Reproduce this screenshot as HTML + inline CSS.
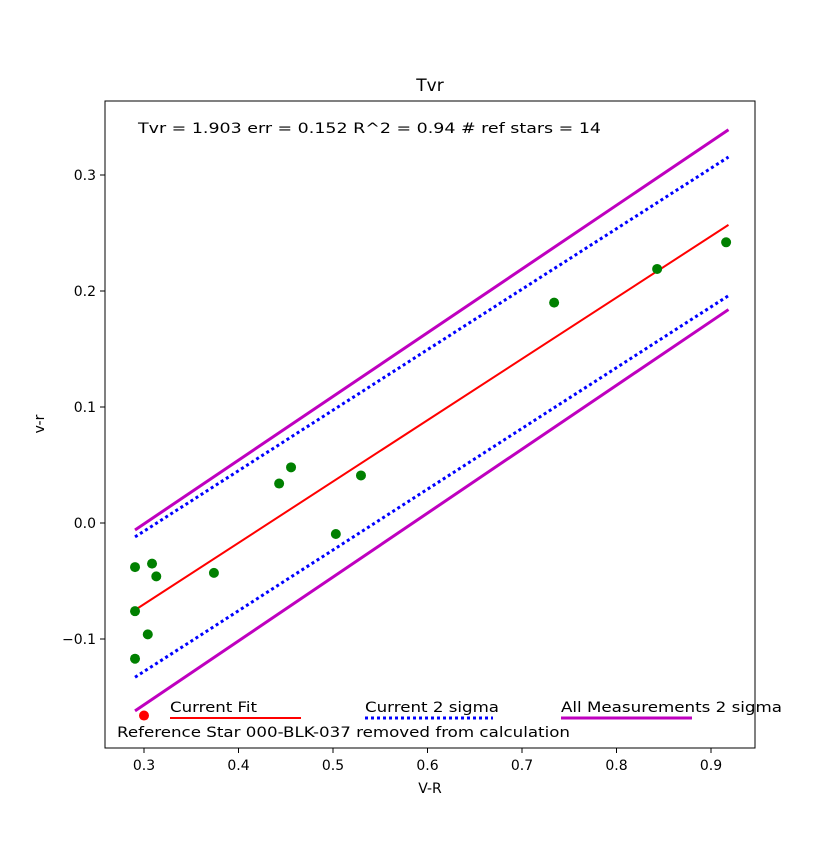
<!DOCTYPE html>
<html><head><meta charset="utf-8"><style>
body{margin:0;background:#fff}
text{font-family:"DejaVu Sans","Liberation Sans",sans-serif;fill:#000}
</style></head><body>
<svg id="chart" width="840" height="840" xmlns="http://www.w3.org/2000/svg" xml:space="preserve">
<rect width="840" height="840" fill="#fff"/>
<text x="430" y="91" font-size="17" text-anchor="middle">Tvr</text>
<g id="plot"></g>
<rect x="105" y="101" width="650" height="647" fill="none" stroke="#000" stroke-width="1"/>
<text x="138" y="133" font-size="14" textLength="463" lengthAdjust="spacingAndGlyphs">Tvr =  1.903 err = 0.152  R^2 = 0.94  # ref stars =  14</text>
<text x="430" y="793" font-size="14" text-anchor="middle">V-R</text>
<text x="44" y="424" font-size="14" text-anchor="middle" transform="rotate(-90 44 424)">v-r</text>
<g>
<text x="170" y="712" font-size="14" textLength="87" lengthAdjust="spacingAndGlyphs">Current Fit</text>
<line x1="170" y1="718" x2="301" y2="718" stroke="#ff0000" stroke-width="2"/>
<text x="365" y="712" font-size="14" textLength="134" lengthAdjust="spacingAndGlyphs">Current 2 sigma</text>
<line x1="365" y1="718" x2="493" y2="718" stroke="#0000ff" stroke-width="3" stroke-dasharray="3,3"/>
<text x="561" y="712" font-size="14" textLength="221" lengthAdjust="spacingAndGlyphs">All Measurements 2 sigma</text>
<line x1="561" y1="718" x2="692" y2="718" stroke="#bf00bf" stroke-width="3"/>
<text x="117" y="737" font-size="14" textLength="453" lengthAdjust="spacingAndGlyphs">Reference Star 000-BLK-037 removed from calculation</text>
</g>
</svg>
<script>
const xTicks=[0.3,0.4,0.5,0.6,0.7,0.8,0.9];
const yTicks=[-0.1,0.0,0.1,0.2,0.3];
const yTickLabels=["\u22120.1","0.0","0.1","0.2","0.3"];
const starX=[0.2905,0.2905,0.2905,0.304,0.3085,0.313,0.374,0.443,0.4556,0.503,0.5296,0.734,0.843,0.916];
const starY=[-0.038,-0.076,-0.117,-0.096,-0.035,-0.046,-0.043,0.034,0.048,-0.0095,0.041,0.190,0.219,0.242];
const removedX=[0.3];
const removedY=[-0.166];
const lineX=[0.2905,0.9185];
const fitY=[-0.075,0.257];
const sigUpY=[-0.012,0.3155];
const sigLoY=[-0.133,0.196];
const allUpY=[-0.006,0.339];
const allLoY=[-0.162,0.184];
const X=v=>144+(v-0.3)*945;
const Y=v=>523-v*1160;
const NS="http://www.w3.org/2000/svg";
const g=document.getElementById('plot');
function mk(t,a){const e=document.createElementNS(NS,t);for(const k in a)e.setAttribute(k,a[k]);g.appendChild(e);return e;}
xTicks.forEach(v=>{
 const l=mk('line',{x1:X(v),x2:X(v),y1:748,y2:753,stroke:'#000'});
 
 
 const t=mk('text',{x:X(v),y:770,'font-size':14,'text-anchor':'middle'});t.textContent=v.toFixed(1);
 
 
});
yTicks.forEach((v,i)=>{
 const l=mk('line',{x1:100,x2:105,y1:Y(v),y2:Y(v),stroke:'#000'});
 
 
 const t=mk('text',{x:96,y:Y(v)+5,'font-size':14,'text-anchor':'end'});t.textContent=yTickLabels[i];
 
 
});
function ln(ys,col,w,dash,name){
 const l=mk('line',{x1:X(lineX[0]),x2:X(lineX[1]),y1:Y(ys[0]),y2:Y(ys[1]),stroke:col,'stroke-width':w});
 if(dash)l.setAttribute('stroke-dasharray',dash);
 
 
}
ln(allUpY,'#bf00bf',3,null,'all-sigma-upper-line');
ln(allLoY,'#bf00bf',3,null,'all-sigma-lower-line');
ln(sigUpY,'#0000ff',3,'3,3','current-sigma-upper-line');
ln(sigLoY,'#0000ff',3,'3,3','current-sigma-lower-line');
ln(fitY,'#ff0000',2,null,'current-fit-line');
starX.forEach((v,i)=>{
 const c=mk('circle',{cx:X(v),cy:Y(starY[i]),r:5,fill:'#008000'});
 
 
});
removedX.forEach((v,i)=>{
 const c=mk('circle',{cx:X(v),cy:Y(removedY[i]),r:5,fill:'#ff0000'});
 
 
});
</script>
</body></html>
